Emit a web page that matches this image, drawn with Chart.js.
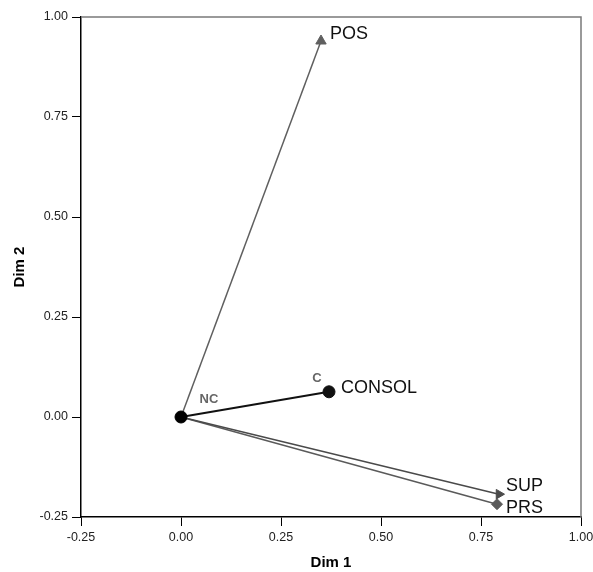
<!DOCTYPE html>
<html>
<head>
<meta charset="utf-8">
<script src="https://cdn.jsdelivr.net/npm/chart.js@4"></script>
<style>
  body { margin: 0; background: #fff; }
  #wrap { width: 593px; height: 572px; }
</style>
</head>
<body>
<div id="wrap"><canvas id="Biplot" width="593" height="572"></canvas></div>
<script>
// variable vectors from the origin
const categories = ['POS', 'CONSOL', 'SUP', 'PRS'];
const dim1 = [0.35, 0.37, 0.795, 0.79];
const dim2 = [0.94, 0.063, -0.193, -0.218];
// category points of CONSOL
const catNames = ['NC', 'C'];
const catDim1 = [0, 0.37];
const catDim2 = [0, 0.063];
// axis ticks
const tickValues = [-0.25, 0, 0.25, 0.5, 0.75, 1];

const markerStyle = ['triangle', 'circle', 'triangle', 'rectRot'];
const markerRot = [0, 0, 90, 0];
const markerSize = [6, 6, 5.5, 5.5];
const lineColor = ['#5f5f5f', '#111111', '#4a4a4a', '#5a5a5a'];
const lineWidth = [1.5, 2, 1.5, 1.5];
// label offsets (px) from the marker
const labelOff = [[9, -7], [12, -4], [7, -8], [9, 4]];
const catOff = [[28, -18], [-12, -13]];

let datasets = [{
  data: [{x: 0, y: 0}],
  pointRadius: 6,
  pointStyle: 'circle',
  backgroundColor: '#000',
  borderColor: '#000',
  showLine: false,
  order: 0
}];
for (let i = 0; i < categories.length; i++) {
  datasets.push({
    label: categories[i],
    data: [{x: 0, y: 0}, {x: dim1[i], y: dim2[i]}],
    showLine: true,
    borderColor: lineColor[i],
    borderWidth: lineWidth[i],
    backgroundColor: lineColor[i],
    pointBackgroundColor: lineColor[i],
    pointBorderColor: lineColor[i],
    pointStyle: markerStyle[i],
    pointRotation: markerRot[i],
    pointRadius: [0, markerSize[i]],
    pointBorderWidth: 1,
    order: 1
  });
}

const labelPlugin = {
  id: 'labels',
  afterDraw(chart) {
    const ctx = chart.ctx;
    const xs = chart.scales.x, ys = chart.scales.y;
    const a = chart.chartArea;
    ctx.save();
    // top and right frame
    ctx.strokeStyle = '#7a7a7a';
    ctx.lineWidth = 1.5;
    ctx.beginPath();
    ctx.moveTo(a.left, a.top);
    ctx.lineTo(a.right, a.top);
    ctx.lineTo(a.right, a.bottom);
    ctx.stroke();

    ctx.textBaseline = 'middle';
    ctx.textAlign = 'left';
    ctx.fillStyle = '#111';
    ctx.font = '18px Arial, "Liberation Sans", sans-serif';
    for (let i = 0; i < categories.length; i++) {
      let px = xs.getPixelForValue(dim1[i]);
      let py = ys.getPixelForValue(dim2[i]);
      ctx.fillText(categories[i], px + labelOff[i][0], py + labelOff[i][1]);
    }
    ctx.textAlign = 'center';
    ctx.fillStyle = '#666';
    ctx.font = 'bold 13px Arial, "Liberation Sans", sans-serif';
    for (let i = 0; i < catNames.length; i++) {
      let px = xs.getPixelForValue(catDim1[i]);
      let py = ys.getPixelForValue(catDim2[i]);
      ctx.fillText(catNames[i], px + catOff[i][0], py + catOff[i][1]);
    }
    ctx.restore();
  }
};

const tickFont = {family: 'Arial, "Liberation Sans", sans-serif', size: 12.5};
const titleFont = {family: 'Arial, "Liberation Sans", sans-serif', size: 15, weight: 'bold'};

function fmt(v) { return Number(v).toFixed(2); }

let biplot = new Chart(document.getElementById('Biplot'), {
  type: 'scatter',
  data: { datasets: datasets },
  options: {
    responsive: false,
    animation: false,
    events: [],
    layout: { padding: { top: 17, right: 12, left: 0, bottom: 0 } },
    plugins: { legend: { display: false }, tooltip: { enabled: false } },
    scales: {
      x: {
        min: -0.25, max: 1,
        afterBuildTicks(s) { s.ticks = tickValues.map(v => ({value: v})); },
        afterFit(s) { s.height = 55; s.paddingLeft = 0; s.paddingRight = 0; },
        ticks: { callback: fmt, font: tickFont, color: '#222', padding: 4, maxRotation: 0 },
        grid: { drawOnChartArea: false, drawTicks: true, tickLength: 9, color: '#000' },
        border: { display: true, color: '#000', width: 1.5 },
        title: { display: true, text: 'Dim 1', font: titleFont, color: '#000', padding: {top: 5, bottom: 0} }
      },
      y: {
        min: -0.25, max: 1,
        afterBuildTicks(s) { s.ticks = tickValues.map(v => ({value: v})); },
        afterFit(s) { s.width = 81; s.paddingTop = 0; s.paddingBottom = 0; },
        ticks: { callback: fmt, font: tickFont, color: '#222', padding: 4 },
        grid: { drawOnChartArea: false, drawTicks: true, tickLength: 9, color: '#000' },
        border: { display: true, color: '#000', width: 1.5 },
        title: { display: true, text: 'Dim 2', font: titleFont, color: '#000', padding: {top: 11, bottom: 0} }
      }
    }
  },
  plugins: [labelPlugin]
});
</script>
</body>
</html>
